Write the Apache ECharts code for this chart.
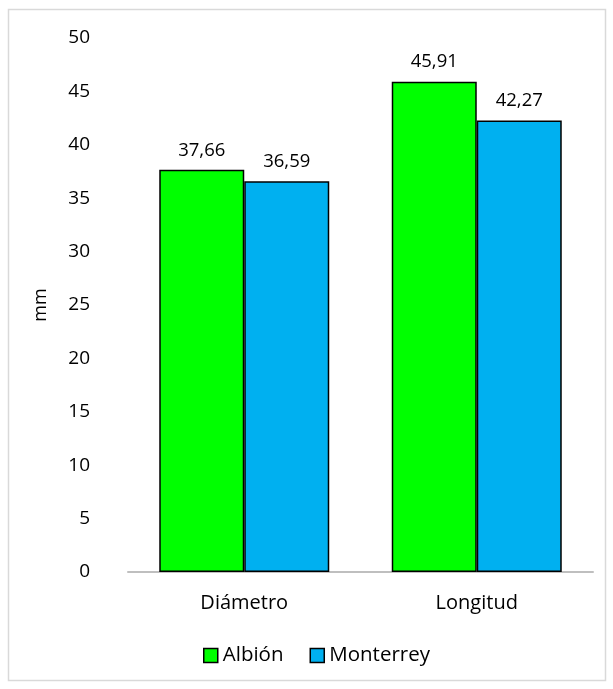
<!DOCTYPE html>
<html lang="es">
<head>
<meta charset="UTF-8">
<title>Diámetro y longitud</title>
<style>
    html, body { margin: 0; padding: 0; background: #fff; }
    #main { width: 613px; height: 689px; }
</style>
</head>
<body>
<div id="main"></div>
<script src="https://cdn.jsdelivr.net/npm/echarts@6/dist/echarts.min.js"></script>
<script>
// datos
var categories = ['Diámetro', 'Longitud'];
var albion = [37.66, 45.91];
var monterrey = [36.59, 42.27];
var seriesNames = ['Albión', 'Monterrey'];

var font = 'Open Sans';
var myChart = echarts.init(document.getElementById('main'));

function fmt(p) {
    return p.value.toFixed(2).replace('.', ',');
}

var option = {
    backgroundColor: '#fff',
    textStyle: { fontFamily: font },
    graphic: [{
        type: 'rect',
        shape: { x: 8.5, y: 9.5, width: 597, height: 671 },
        style: { fill: 'none', stroke: '#d9d9d9', lineWidth: 1.5 },
        silent: true
    }],
    grid: { left: 128, right: 20, top: 38, bottom: 117 },
    legend: {
        bottom: 18,
        left: 198,
        itemWidth: 14,
        itemHeight: 14,
        itemGap: 26,
        icon: 'rect',
        itemStyle: { borderColor: '#000', borderWidth: 1.5 },
        textStyle: { fontSize: 20.5, color: '#000', fontFamily: font, padding: [0, 0, 0, 0] },
        data: seriesNames
    },
    xAxis: {
        type: 'category',
        data: categories,
        axisLine: { lineStyle: { color: '#bfbfbf', width: 2 } },
        axisTick: { show: false },
        axisLabel: { color: '#000', fontSize: 20, margin: 21 }
    },
    yAxis: {
        type: 'value',
        min: 0,
        max: 50,
        interval: 5,
        name: 'mm',
        nameLocation: 'middle',
        nameGap: 78,
        nameTextStyle: { color: '#000', fontSize: 18 },
        axisLine: { show: false },
        axisTick: { show: false },
        splitLine: { show: false },
        axisLabel: { color: '#000', fontSize: 19, margin: 38 }
    },
    series: [
        {
            name: seriesNames[0],
            type: 'bar',
            data: albion,
            barWidth: 85,
            barGap: '0%',
            itemStyle: { color: '#00ff00', borderColor: '#000', borderWidth: 1.5 },
            label: { show: true, position: 'top', distance: 10, color: '#000', fontSize: 18.5, formatter: fmt }
        },
        {
            name: seriesNames[1],
            type: 'bar',
            data: monterrey,
            barWidth: 85,
            barGap: '0%',
            itemStyle: { color: '#00b0f0', borderColor: '#000', borderWidth: 1.5 },
            label: { show: true, position: 'top', distance: 10, color: '#000', fontSize: 18.5, formatter: fmt }
        }
    ]
};

myChart.setOption(option);
</script>
</body>
</html>
